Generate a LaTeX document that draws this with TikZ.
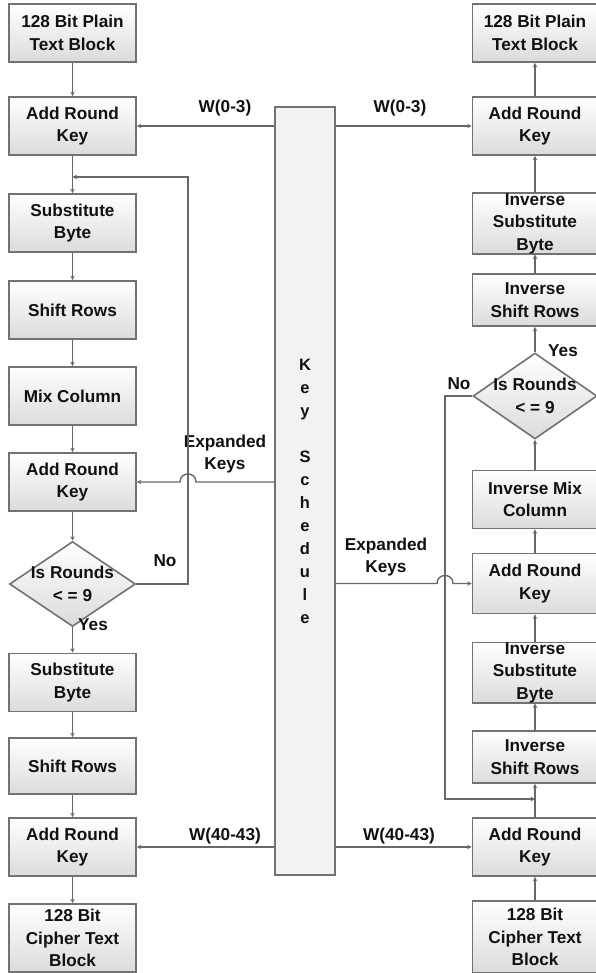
\documentclass[tikz,border=0pt]{standalone}
\usepackage{fontspec}
\setmainfont{Liberation Sans}
\usetikzlibrary{shapes.geometric,arrows.meta}
\definecolor{ln}{HTML}{686868}
\definecolor{bd}{HTML}{727272}
\definecolor{txt}{HTML}{111111}
\newcommand\boxfont{\fontsize{17.2}{22.5}\selectfont\bfseries}
\tikzset{
  box/.style={draw=bd, line width=1.6pt, top color=white, bottom color=black!14,
    minimum width=127pt, minimum height=58pt, inner sep=0pt, align=center,
    font=\boxfont, text=txt},
  rbox/.style={box, minimum width=125pt},
  dia/.style={diamond, draw=bd, line width=1.6pt, top color=white, bottom color=black!14,
    inner sep=0pt, minimum width=126pt, minimum height=85pt},
  arr/.style={draw=ln, line width=1.4pt, -{Stealth[length=4.5pt,width=4.5pt]}},
  conn/.style={draw=ln, line width=1.4pt},
  lbl/.style={font=\boxfont, text=txt, align=center, inner sep=0pt},
  ksbox/.style={draw=bd, line width=1.6pt, fill=black!5, minimum width=60pt,
    minimum height=768pt, inner sep=0pt, align=center,
    font=\fontsize{16.5}{23}\selectfont\bfseries, text=txt},
}
\begin{document}
\begin{tikzpicture}[x=1pt,y=-1pt]
\useasboundingbox (0,0) rectangle (595,973);
\fill[white] (0,0) rectangle (595,973);

% key schedule
\node[ksbox] (ks) at (305,491) {K\\e\\y\\[23pt]S\\c\\h\\e\\d\\u\\l\\e};

% left column (encryption)
\node[box] (lp)   at (72.5,33)  {128 Bit Plain\\Text Block};
\node[box] (la1)  at (72.5,126) {Add Round\\Key};
\node[box] (lsb1) at (72.5,223) {Substitute\\Byte};
\node[box] (lsr1) at (72.5,310) {Shift Rows};
\node[box] (lmc)  at (72.5,396) {Mix Column};
\node[box] (la2)  at (72.5,482) {Add Round\\Key};
\node[dia, label={[lbl]center:Is Rounds\\< = 9}] (ld) at (72.5,584) {};
\node[box] (lsb2) at (72.5,682.5) {Substitute\\Byte};
\node[box, minimum height=56pt] (lsr2) at (72.5,766) {Shift Rows};
\node[box] (la3)  at (72.5,847) {Add Round\\Key};
\node[box, minimum height=68pt] (lc) at (72.5,938) {128 Bit\\Cipher Text\\Block};

% right column (decryption)
\node[rbox] (rp)    at (535,33)    {128 Bit Plain\\Text Block};
\node[rbox] (ra1)   at (535,126)   {Add Round\\Key};
\node[rbox] (risb1) at (535,223.5) {Inverse\\Substitute\\Byte};
\node[rbox, minimum height=52pt] (risr1) at (535,300) {Inverse\\Shift Rows};
\node[dia, minimum width=124pt, minimum height=86pt, label={[lbl]center:Is Rounds\\< = 9}] (rd) at (535,396) {};
\node[rbox] (rimc)  at (535,499.5) {Inverse Mix\\Column};
\node[rbox, minimum height=60pt] (ra2) at (535,583.5) {Add Round\\Key};
\node[rbox] (risb2) at (535,672.5) {Inverse\\Substitute\\Byte};
\node[rbox, minimum height=52pt] (risr2) at (535,757) {Inverse\\Shift Rows};
\node[rbox] (ra3)   at (535,847)   {Add Round\\Key};
\node[rbox, minimum height=72pt] (rc) at (535,937) {128 Bit\\Cipher Text\\Block};

% labels
\node[lbl] (w03l) at (225,108) {W(0-3)};
\node[lbl] (w03r) at (400,108) {W(0-3)};
\node[lbl] (ekl)  at (225,454) {Expanded\\Keys};
\node[lbl] (ekr)  at (386,557) {Expanded\\Keys};
\node[lbl] (nol)  at (165,561) {No};
\node[lbl] (nor)  at (459,384) {No};
\node[lbl] (yesl) at (93,625)  {Yes};
\node[lbl] (yesr) at (563,351) {Yes};
\node[lbl] (w40l) at (225,836) {W(40-43)};
\node[lbl] (w40r) at (399,836) {W(40-43)};

% coordinates
\coordinate (lloop) at (188,177);
\coordinate (ljoin) at (72.5,177);
\coordinate (rloop) at (445,799);
\coordinate (rjoin) at (535,799);
\coordinate (lbr) at (196,482);
\coordinate (lbl) at (180,482);
\coordinate (rbl) at (437,583.5);
\coordinate (rbr) at (453,583.5);

% left flow
\draw[arr] (lp) -- (la1);
\draw[arr] (la1) -- (lsb1);
\draw[arr] (lsb1) -- (lsr1);
\draw[arr] (lsr1) -- (lmc);
\draw[arr] (lmc) -- (la2);
\draw[arr] (la2) -- (ld);
\draw[arr] (ld) -- (lsb2);
\draw[arr] (lsb2) -- (lsr2);
\draw[arr] (lsr2) -- (la3);
\draw[arr] (la3) -- (lc);
\draw[arr] (ld.east) -| (lloop) -- (ljoin);

% right flow (upwards)
\draw[arr] (rc) -- (ra3);
\draw[arr] (ra3) -- (risr2);
\draw[arr] (risr2) -- (risb2);
\draw[arr] (risb2) -- (ra2);
\draw[arr] (ra2) -- (rimc);
\draw[arr] (rimc) -- (rd);
\draw[arr] (rd) -- (risr1);
\draw[arr] (risr1) -- (risb1);
\draw[arr] (risb1) -- (ra1);
\draw[arr] (ra1) -- (rp);
\draw[arr] (rd.west) -| (rloop) -- (rjoin);

% key lines
\draw[arr] (ks.west |- la1) -- (la1.east);
\draw[arr] (ks.east |- ra1) -- (ra1.west);
\draw[arr] (ks.west |- la2) -- (lbr) .. controls +(0,-10.7) and +(0,-10.7) .. (lbl) -- (la2.east);
\draw[arr] (ks.east |- ra2) -- (rbl) .. controls +(0,-10.7) and +(0,-10.7) .. (rbr) -- (ra2.west);
\draw[arr] (ks.west |- la3) -- (la3.east);
\draw[arr] (ks.east |- ra3) -- (ra3.west);
\end{tikzpicture}
\end{document}
